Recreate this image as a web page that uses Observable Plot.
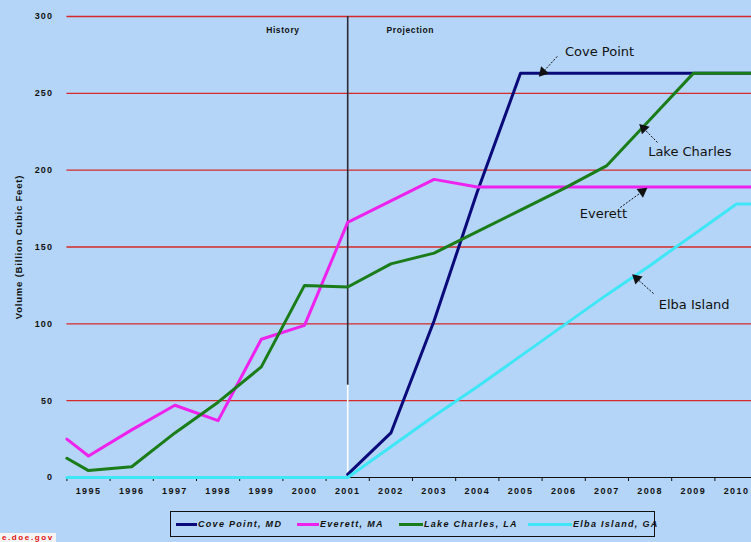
<!DOCTYPE html>
<html>
<head>
<meta charset="utf-8">
<script src="https://cdn.jsdelivr.net/npm/d3@7"></script>
<script src="https://cdn.jsdelivr.net/npm/@observablehq/plot@0.6"></script>
<style>
  html, body { margin: 0; padding: 0; width: 751px; height: 542px; overflow: hidden; background: #b4d5f8; }
  #wrap { position: relative; width: 751px; height: 542px; }
  #chart svg { display: block; }
  g[aria-label="x-axis tick label"] text { letter-spacing: 1.4px; }
  g[aria-label="y-axis tick label"] text { letter-spacing: 1px; }
  #legend { position: absolute; left: 170px; top: 511px; width: 483px; height: 24px; border: 1.5px solid #111; background: #b4d5f8; }
  .item { position: absolute; top: 0; height: 24px; display: flex; align-items: center; }
  .sw { height: 3px; }
  .lbl { font: italic bold 9px "Liberation Sans", Arial, sans-serif; letter-spacing: 1.3px; color: #111; white-space: nowrap; }
  #src { position: absolute; left: 0px; top: 533px; font: bold 8px/9px "Liberation Sans", Arial, sans-serif; color: #e01010; background: #f4f4f4; padding: 0 2px; letter-spacing: 1.6px; }
</style>
</head>
<body>
<div id="wrap">
  <div id="chart"></div>
  <div id="legend"></div>
  <div id="src">e.doe.gov</div>
</div>
<script>
// ---- data ----
const years = [1994.5, 1995, 1996, 1997, 1998, 1999, 2000, 2001, 2002, 2003, 2004, 2005, 2006, 2007, 2008, 2009, 2010, 2011];
const seriesNames = ["Cove Point, MD", "Everett, MA", "Lake Charles, LA", "Elba Island, GA"];
const seriesColors = ["#0a0a7a", "#ee22ee", "#1a7d1a", "#3ee6f6"];
const covePoint   = [null, null, null, null, null, null, null, 2, 29, 102, 186, 263, 263, 263, 263, 263, 263, 263];
const everett     = [25, 14, 31, 47, 37, 90, 99, 166, 180, 194, 189, 189, 189, 189, 189, 189, 189, 189];
const lakeCharles = [12.5, 4.5, 7, 29, 49, 72, 125, 124, 139, 146, 160, 174, 188, 203, 233, 263, 263, 263];
const elbaIsland  = [0, 0, 0, 0, 0, 0, 0, 0, 20, 40, 59, 79, 99, 119, 138, 158, 178, 178];
const xTickLabels = [1995, 1996, 1997, 1998, 1999, 2000, 2001, 2002, 2003, 2004, 2005, 2006, 2007, 2008, 2009, 2010];
const xTickMarks  = [1994.5, 1995.5, 1996.5, 1997.5, 1998.5, 1999.5, 2000.5, 2001.5, 2002.5, 2003.5, 2004.5, 2005.5, 2006.5, 2007.5, 2008.5, 2009.5, 2010.5];
const yTicks = [0, 50, 100, 150, 200, 250, 300];
const gridValues = [50, 100, 150, 200, 250, 300];
const dividerYear = 2001;
const periodLabels = ["History", "Projection"];
const periodLabelX = [1999.5, 2002.45];
const annotationLabels = ["Cove Point", "Lake Charles", "Everett", "Elba Island"];
const annotationTextX = [2006.83, 2008.92, 2006.92, 2009.02];
const annotationTextY = [277, 212, 171.5, 112.6];
const arrowFromX = [2005.85, 2008.17, 2007.31, 2008.08];
const arrowFromY = [274, 218, 175.7, 119.7];
const arrowToX   = [2005.52, 2007.85, 2007.82, 2007.69];
const arrowToY   = [263.8, 227.2, 186.1, 129.5];

// ---- build tables ----
const allSeries = [covePoint, everett, lakeCharles, elbaIsland];
const rows = [];
allSeries.forEach((vals, si) => {
  vals.forEach((v, i) => { if (v != null) rows.push({series: seriesNames[si], year: years[i], value: v}); });
});
const pxPerYear = 43.2, pxPerUnit = 461 / 300;
const annotations = annotationLabels.map((label, i) => {
  const dx = (arrowToX[i] - arrowFromX[i]) * pxPerYear;
  const dy = -(arrowToY[i] - arrowFromY[i]) * pxPerUnit;
  return {label, tx: annotationTextX[i], ty: annotationTextY[i],
          x1: arrowFromX[i], y1: arrowFromY[i], x2: arrowToX[i], y2: arrowToY[i],
          rot: Math.atan2(dx, -dy) * 180 / Math.PI};
});
const periods = periodLabels.map((label, i) => ({label, x: periodLabelX[i]}));

const chart = Plot.plot({
  width: 751,
  height: 500,
  marginTop: 16, marginBottom: 23, marginLeft: 66.4, marginRight: 0,
  style: {background: "transparent", fontFamily: "'Liberation Sans', Arial, sans-serif", color: "#111"},
  x: {type: "linear", domain: [1994.5, 2011], range: [66.4, 66.4 + 16.5 * 43.2]},
  y: {domain: [0, 300], range: [477, 16]},
  color: {domain: seriesNames, range: seriesColors},
  marks: [
    Plot.ruleY(gridValues, {x1: 1994.5, x2: 2011, stroke: "#d42a2a", strokeWidth: 1.3}),
    Plot.ruleX([dividerYear], {y1: 60, y2: 300, stroke: "#2b2b36", strokeWidth: 1.6}),
    Plot.ruleX([dividerYear], {y1: 0, y2: 60, stroke: "#ffffff", strokeWidth: 1.6}),
    Plot.axisX({ticks: xTickMarks, tickSize: 4, tickFormat: () => "", stroke: "#111", label: null}),
    Plot.axisX({ticks: xTickLabels, tickSize: 0, tickPadding: 10, tickFormat: d => String(d), fontSize: 9, fontWeight: "bold", label: null}),
    Plot.ruleY([0], {x1: 1994.5, x2: 2011, stroke: "#111", strokeWidth: 1.2}),
    Plot.axisY({ticks: yTicks, tickSize: 0, tickPadding: 14, fontSize: 9, fontWeight: "bold", tickFormat: d => String(d),
      label: "Volume (Billion Cubic Feet)", labelAnchor: "center", labelArrow: "none", labelOffset: 52}),
    Plot.line(rows, {x: "year", y: "value", z: "series", stroke: "series", strokeWidth: 3, curve: "linear"}),
    Plot.text(periods, {x: "x", y: 291, text: "label", fontSize: 8.5, fontWeight: "bold", fill: "#111"}),
    Plot.link(annotations, {x1: "x1", y1: "y1", x2: "x2", y2: "y2", stroke: "#111", strokeWidth: 1, strokeDasharray: "2,1.5"}),
    Plot.dot(annotations, {x: "x2", y: "y2", symbol: "triangle", r: 4, fill: "#111", stroke: "none", rotate: "rot"}),
    Plot.text(annotations, {x: "tx", y: "ty", text: "label", fontSize: 13, fontFamily: "'DejaVu Sans', Verdana, sans-serif", fill: "#111"})
  ]
});
document.getElementById("chart").appendChild(chart);
d3.select(chart).selectAll('g[aria-label="y-axis label"] text').style("font-size", "9.5px").style("letter-spacing", "0.8px");
d3.select(chart).selectAll('g[aria-label="text"] text').filter(function() { return this.textContent === "Projection" || this.textContent === "History"; }).style("letter-spacing", "0.6px");

// ---- legend ----
const legendLeft = [5, 126, 228, 357];
const swatchWidth = [21, 22, 24, 44];
const legend = d3.select("#legend");
seriesNames.forEach((name, i) => {
  const it = legend.append("div").attr("class", "item").style("left", legendLeft[i] + "px");
  it.append("div").attr("class", "sw").style("width", swatchWidth[i] + "px").style("background", seriesColors[i]);
  it.append("div").attr("class", "lbl").style("margin-left", "1px").text(name);
});
</script>
</body>
</html>
